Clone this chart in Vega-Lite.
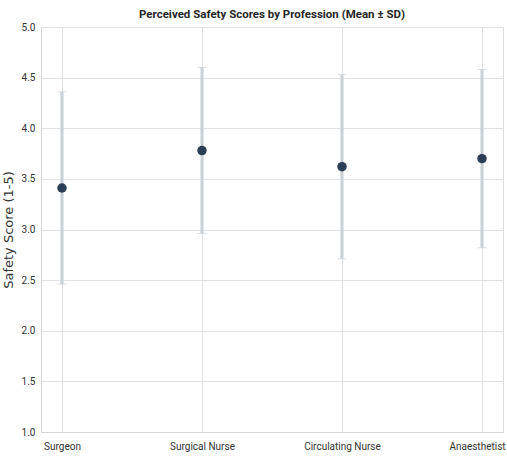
{
  "$schema": "https://vega.github.io/schema/vega-lite/v6.json",
  "width": 462,
  "height": 405,
  "autosize": {"type": "none"},
  "padding": {"left": 41, "top": 27, "right": 4, "bottom": 24},
  "background": "white",
  "title": {
    "text": "Perceived Safety Scores by Profession (Mean ± SD)",
    "font": "Roboto",
    "fontSize": 11.5,
    "fontWeight": "bold",
    "color": "#262626",
    "anchor": "middle",
    "offset": 2
  },
  "data": {
    "values": [
      {"profession": "Surgeon", "mean": 3.41, "lower": 2.46, "upper": 4.36},
      {"profession": "Surgical Nurse", "mean": 3.78, "lower": 2.96, "upper": 4.60},
      {"profession": "Circulating Nurse", "mean": 3.62, "lower": 2.71, "upper": 4.53},
      {"profession": "Anaesthetist", "mean": 3.70, "lower": 2.82, "upper": 4.58}
    ]
  },
  "config": {
    "view": {"stroke": "#dddddd"},
    "axis": {
      "labelFont": "Roboto",
      "labelFontSize": 10,
      "labelColor": "#333333",
      "titleFont": "DejaVu Sans",
      "titleFontSize": 13,
      "titleFontWeight": "normal",
      "titleColor": "#333333",
      "gridColor": "#e0e0e0",
      "domainColor": "#d5d5d5",
      "ticks": false
    }
  },
  "encoding": {
    "x": {
      "field": "profession",
      "type": "nominal",
      "sort": null,
      "scale": {"type": "point", "padding": 0.15},
      "axis": {
        "title": null,
        "labelAngle": 0,
        "grid": true,
        "labelPadding": 9,
        "labelOffset": {"condition": {"test": "datum.value === 'Anaesthetist'", "value": -5}, "value": 0}
      }
    }
  },
  "layer": [
    {
      "mark": {"type": "rule", "color": "#c9d0d5", "strokeWidth": 3},
      "encoding": {
        "y": {
          "field": "lower",
          "type": "quantitative",
          "scale": {"domain": [1, 5]},
          "axis": {"title": "Safety Score (1-5)", "tickCount": 8, "format": ".1f", "labelPadding": 6, "titlePadding": 6, "domain": true}
        },
        "y2": {"field": "upper"}
      }
    },
    {
      "mark": {"type": "tick", "color": "#c9d0d5", "size": 9, "thickness": 1},
      "encoding": {"y": {"field": "lower", "type": "quantitative"}}
    },
    {
      "mark": {"type": "tick", "color": "#c9d0d5", "size": 9, "thickness": 1},
      "encoding": {"y": {"field": "upper", "type": "quantitative"}}
    },
    {
      "mark": {"type": "circle", "color": "#2c3e55", "size": 90, "opacity": 1},
      "encoding": {"y": {"field": "mean", "type": "quantitative"}}
    }
  ]
}
